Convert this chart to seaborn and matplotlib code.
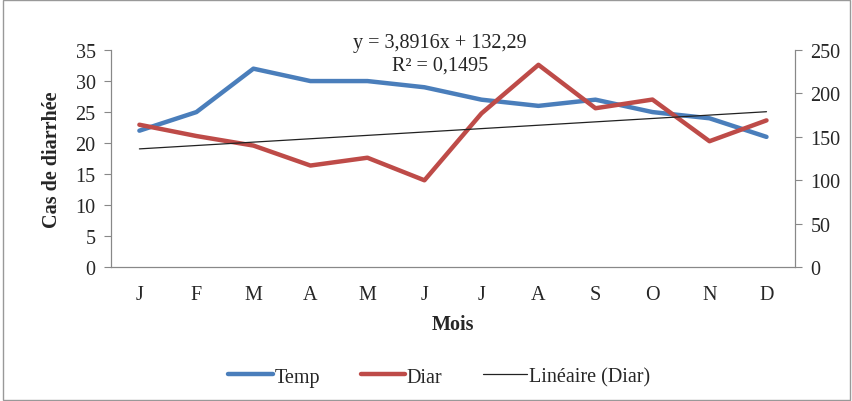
import numpy as np
import pandas as pd
import seaborn as sns
import matplotlib.pyplot as plt
from matplotlib.ticker import FixedLocator

months = ["J", "F", "M", "A", "M", "J", "J", "A", "S", "O", "N", "D"]
temp = [22, 25, 32, 30, 30, 29, 27, 26, 27, 25, 24, 21]
diar = [164, 151, 140, 117, 126, 100, 177, 233, 183, 193, 145, 169]
slope, intercept = 3.8916, 132.29
eq_text = "y = 3,8916x + 132,29"
r2_text = "R² = 0,1495"

sns.set_style("white")
plt.rcParams["font.family"] = ["Liberation Serif", "DejaVu Serif"]

df = pd.DataFrame({"pos": np.arange(len(months)), "Temp": temp, "Diar": diar})
df["trend"] = slope * (df["pos"] + 1) + intercept

fig = plt.figure(figsize=(8.53, 4.02), dpi=100)
ax1 = fig.add_axes([0.130, 0.333, 0.802, 0.540])
ax2 = ax1.twinx()

sns.lineplot(data=df, x="pos", y="Temp", ax=ax1, color="#4A7EBB", lw=3.2, label="Temp", legend=False)
sns.lineplot(data=df, x="pos", y="Diar", ax=ax2, color="#BE4B48", lw=3.2, label="Diar", legend=False)
sns.lineplot(data=df, x="pos", y="trend", ax=ax2, color="#222222", lw=0.9, label="Linéaire (Diar)", legend=False)

ax1.set_xlim(-0.5, len(months) - 0.5)
ax1.set_ylim(0, 35)
ax2.set_ylim(0, 250)
ax1.set_yticks(range(0, 36, 5))
ax2.set_yticks(range(0, 251, 50))
ax1.set_xticks(df["pos"])
ax1.set_xticklabels(months)
ax1.xaxis.set_minor_locator(FixedLocator(np.arange(-0.5, len(months), 1)))
ax1.tick_params(axis="x", which="major", length=0, labelsize=14.5, pad=13)
ax1.tick_params(axis="x", which="minor", length=5, color="#888888", direction="out")
ax1.tick_params(axis="y", length=5, color="#888888", direction="out", labelsize=14.5, pad=6)
ax2.tick_params(axis="y", length=5, color="#888888", direction="out", labelsize=14.5, pad=6)

for ax in (ax1, ax2):
    ax.spines["top"].set_visible(False)
    for s in ("left", "right", "bottom"):
        ax.spines[s].set_color("#888888")
        ax.spines[s].set_linewidth(0.8)

ax1.set_xlabel("Mois", fontsize=14.5, fontweight="bold", labelpad=7)
ax1.set_ylabel("Cas de diarrhée", fontsize=14.5, fontweight="bold", labelpad=10)
ax2.set_ylabel("")

fig.text(0.516, 0.893, eq_text, ha="center", va="center", fontsize=14.5)
fig.text(0.516, 0.836, r2_text, ha="center", va="center", fontsize=14.5)

handles = ax1.get_lines()[:1] + ax2.get_lines()[:2]
fig.legend(handles, ["Temp", "Diar", "Linéaire (Diar)"], loc="center", bbox_to_anchor=(0.515, 0.06),
           ncol=3, frameon=False, fontsize=14.5, handlelength=2.2, handletextpad=0.1, columnspacing=2.0)

fig.patches.append(plt.Rectangle((0.003, 0.003), 0.994, 0.994, transform=fig.transFigure,
                                 fill=False, edgecolor="#999999", lw=1))

fig.savefig("out.png", dpi=100)
